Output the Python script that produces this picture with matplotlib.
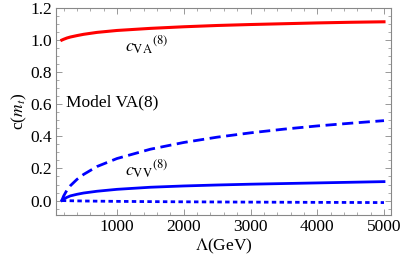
import numpy as np
import matplotlib.pyplot as plt
from matplotlib.ticker import MultipleLocator

plt.rcParams['font.family'] = ['Liberation Serif', 'DejaVu Serif']
plt.rcParams['mathtext.fontset'] = 'stix'

lam = [173, 200, 250, 300, 400, 500, 700, 1000, 1500, 2000, 2500, 3000, 3500, 4000, 4500, 5000]
c_va = [1.0, 1.005, 1.013, 1.019, 1.028, 1.036, 1.048, 1.060, 1.073, 1.083, 1.091, 1.097, 1.102, 1.107, 1.111, 1.114]
c_vv_dash = [0.0, 0.028, 0.065, 0.092, 0.132, 0.163, 0.212, 0.262, 0.320, 0.362, 0.395, 0.422, 0.445, 0.465, 0.482, 0.498]
c_vv = [0.0, 0.010, 0.020, 0.029, 0.039, 0.047, 0.058, 0.070, 0.083, 0.091, 0.097, 0.102, 0.106, 0.110, 0.114, 0.118]
c_vv_dot = [0.0, -0.0003, -0.0008, -0.0012, -0.002, -0.0027, -0.0038, -0.005, -0.0066, -0.0078, -0.0088, -0.0097, -0.0105, -0.0112, -0.0118, -0.0125]

fig = plt.figure(figsize=(4.07, 2.63), dpi=100)
ax = fig.add_axes([0.1376, 0.1825, 0.8231, 0.7871])

ax.plot(lam, c_va, color='red', lw=2.2)
ax.plot(lam, c_vv_dash, color='blue', lw=2.0, dashes=(4, 2))
ax.plot(lam, c_vv, color='blue', lw=2.0)
ax.plot(lam, c_vv_dot, color='blue', lw=2.0, dashes=(1.6, 1.2))

ax.set_xlim(86, 5105)
ax.set_ylim(-0.09, 1.2)
ax.xaxis.set_major_locator(MultipleLocator(1000))
ax.xaxis.set_minor_locator(MultipleLocator(200))
ax.yaxis.set_major_locator(MultipleLocator(0.2))
ax.yaxis.set_minor_locator(MultipleLocator(0.05))
ax.yaxis.set_major_formatter(plt.FuncFormatter(lambda v, p: f'{v:.1f}'))
ax.tick_params(which='both', direction='in', top=True, right=True, color='#888888', labelsize=12.5)
ax.tick_params(which='major', length=4, width=0.6, pad=3)
ax.tick_params(which='minor', length=2, width=0.5)
for s in ax.spines.values():
    s.set_color('#888888')
    s.set_linewidth(0.8)

ax.set_xlabel(r'$\Lambda$(GeV)', fontsize=12.5, labelpad=1)
ax.set_ylabel(r'c($m_t$)', fontsize=12.5, labelpad=1)

ax.text(1120, 0.965, r'$c_{\mathrm{VA}}{}^{(8)}$', fontsize=13, va='center')
ax.text(1120, 0.19, r'$c_{\mathrm{VV}}{}^{(8)}$', fontsize=13, va='center')
ax.text(230, 0.61, 'Model VA(8)', fontsize=12.5, va='center')

fig.savefig('out.png', dpi=100)
